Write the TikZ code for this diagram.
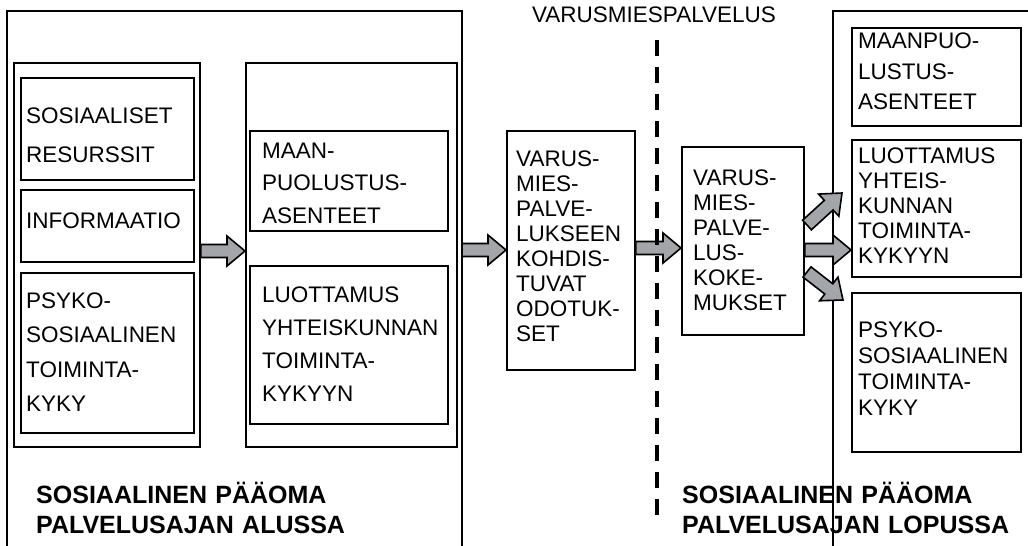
\documentclass[tikz,border=0pt]{standalone}
\usepackage{fontspec}
\setmainfont{Liberation Sans}
\usetikzlibrary{calc}
\definecolor{arrowgray}{RGB}{163,165,168}
\tikzset{
  frameline/.style={line width=1.6pt},
  box/.style={draw, line width=1.8pt, rectangle, inner sep=0pt, anchor=north west},
  txt/.style={anchor=base west, inner sep=0pt, align=left, text width=190pt},
  boldtxt/.style={anchor=base west, inner sep=0pt, align=left, text width=360pt,
    font=\fontsize{25}{30}\selectfont\bfseries},
  barrow/.style={fill=arrowgray, draw=black, line width=1.6pt, line join=miter},
  divider/.style={line width=4.5pt, dash pattern=on 16pt off 11pt},
}
\newcommand{\bx}[5]{\node[box, minimum width={#4-#2}, minimum height={#5-#3}] (#1) at (#2,-#3) {};}
\newcommand{\blockarrow}[2]{\path[barrow] let \p1=#1, \p2=#2,
  \n1={atan2(\y2-\y1,\x2-\x1)}, \n2={veclen(\x2-\x1,\y2-\y1)} in
  [shift={(\p1)}, rotate=\n1] (0,-6.5) -- ({\n2-18},-6.5) -- ({\n2-18},-15) -- (\n2,0)
  -- ({\n2-18},15) -- ({\n2-18},6.5) -- (0,6.5) -- cycle;}
\begin{document}
\begin{tikzpicture}[x=1pt, y=1pt]
\useasboundingbox (0,0) rectangle (1028,-546);
% frames
\draw[frameline] (7,-546) -- (7,-11) -- (462,-11) -- (462,-546);
\draw[frameline] (833,-546) -- (833,-11) -- (1028,-11);
% left column
\bx{col1}{13}{62}{199}{446}
\bx{soc}{20}{77}{193}{179}
\node[txt, font=\fontsize{22.5}{39}\selectfont] (socT) at (26,-123) {SOSIAALISET\\RESURSSIT};
\bx{info}{20}{189}{193}{261}
\node[txt, font=\fontsize{22.5}{34}\selectfont] (infoT) at (26,-228) {INFORMAATIO};
\bx{psyA}{20}{272}{193}{432}
\node[txt, font=\fontsize{22.5}{34.5}\selectfont] (psyAT) at (26,-308) {PSYKO-\\SOSIAALINEN\\TOIMINTA-\\KYKY};
% second column
\bx{col2}{245}{62}{456}{446}
\bx{maanA}{249}{130}{447}{230}
\node[txt, font=\fontsize{22.5}{32.5}\selectfont] (maanAT) at (262,-158) {MAAN-\\PUOLUSTUS-\\ASENTEET};
\bx{luotA}{249}{265}{447}{423}
\node[txt, font=\fontsize{22.5}{33.3}\selectfont] (luotAT) at (262,-302) {LUOTTAMUS\\YHTEISKUNNAN\\TOIMINTA-\\KYKYYN};
% expectations / experiences
\bx{vbA}{506}{130}{634}{369}
\node[txt, font=\fontsize{22.5}{25}\selectfont] (vbAT) at (516,-166) {VARUS-\\MIES-\\PALVE-\\LUKSEEN\\KOHDIS-\\TUVAT\\ODOTUK-\\SET};
\bx{vbB}{681}{146}{803}{334}
\node[txt, font=\fontsize{22.5}{25}\selectfont] (vbBT) at (693,-185) {VARUS-\\MIES-\\PALVE-\\LUS-\\KOKE-\\MUKSET};
% right column
\bx{maanB}{851}{27}{1020}{125}
\node[txt, font=\fontsize{22.5}{31}\selectfont] (maanBT) at (858,-48) {MAANPUO-\\LUSTUS-\\ASENTEET};
\bx{luotB}{851}{139}{1020}{276}
\node[txt, font=\fontsize{22.5}{25}\selectfont] (luotBT) at (858,-163) {LUOTTAMUS\\YHTEIS-\\KUNNAN\\TOIMINTA-\\KYKYYN};
\bx{psyB}{851}{292}{1020}{451}
\node[txt, font=\fontsize{22.5}{26}\selectfont] (psyBT) at (858,-337) {PSYKO-\\SOSIAALINEN\\TOIMINTA-\\KYKY};
% titles
\node[anchor=base, inner sep=0pt, font=\fontsize{22.5}{26}\selectfont] (vmp) at (654,-22) {VARUSMIESPALVELUS};
\node[boldtxt] (alku) at (36,-503) {SOSIAALINEN PÄÄOMA\\PALVELUSAJAN ALUSSA};
\node[boldtxt] (loppu) at (682,-503) {SOSIAALINEN PÄÄOMA\\PALVELUSAJAN LOPUSSA};
% arrow rows
\coordinate (rowA) at (0,-251);
\coordinate (rowB) at (0,-250);
\coordinate (rowC) at (0,-248);
\coordinate (frameR) at (462,-250);
\coordinate (upTail) at (807,-225);
\coordinate (upTip) at (842,-193);
\coordinate (dnTail) at (807,-272);
\coordinate (dnTip) at (843,-300);
\blockarrow{(col1.east |- rowA)}{(col2.west |- rowA)}
\blockarrow{(frameR)}{(vbA.west |- rowB)}
\blockarrow{(vbA.east |- rowC)}{(vbB.west |- rowC)}
\blockarrow{(vbB.east |- rowB)}{(luotB.west |- rowB)}
\blockarrow{(upTail)}{(upTip)}
\blockarrow{(dnTail)}{(dnTip)}
% divider
\coordinate (divTop) at (657,-40);
\coordinate (divBot) at (657,-518);
\draw[divider] (divTop) -- (divBot);
\end{tikzpicture}
\end{document}
